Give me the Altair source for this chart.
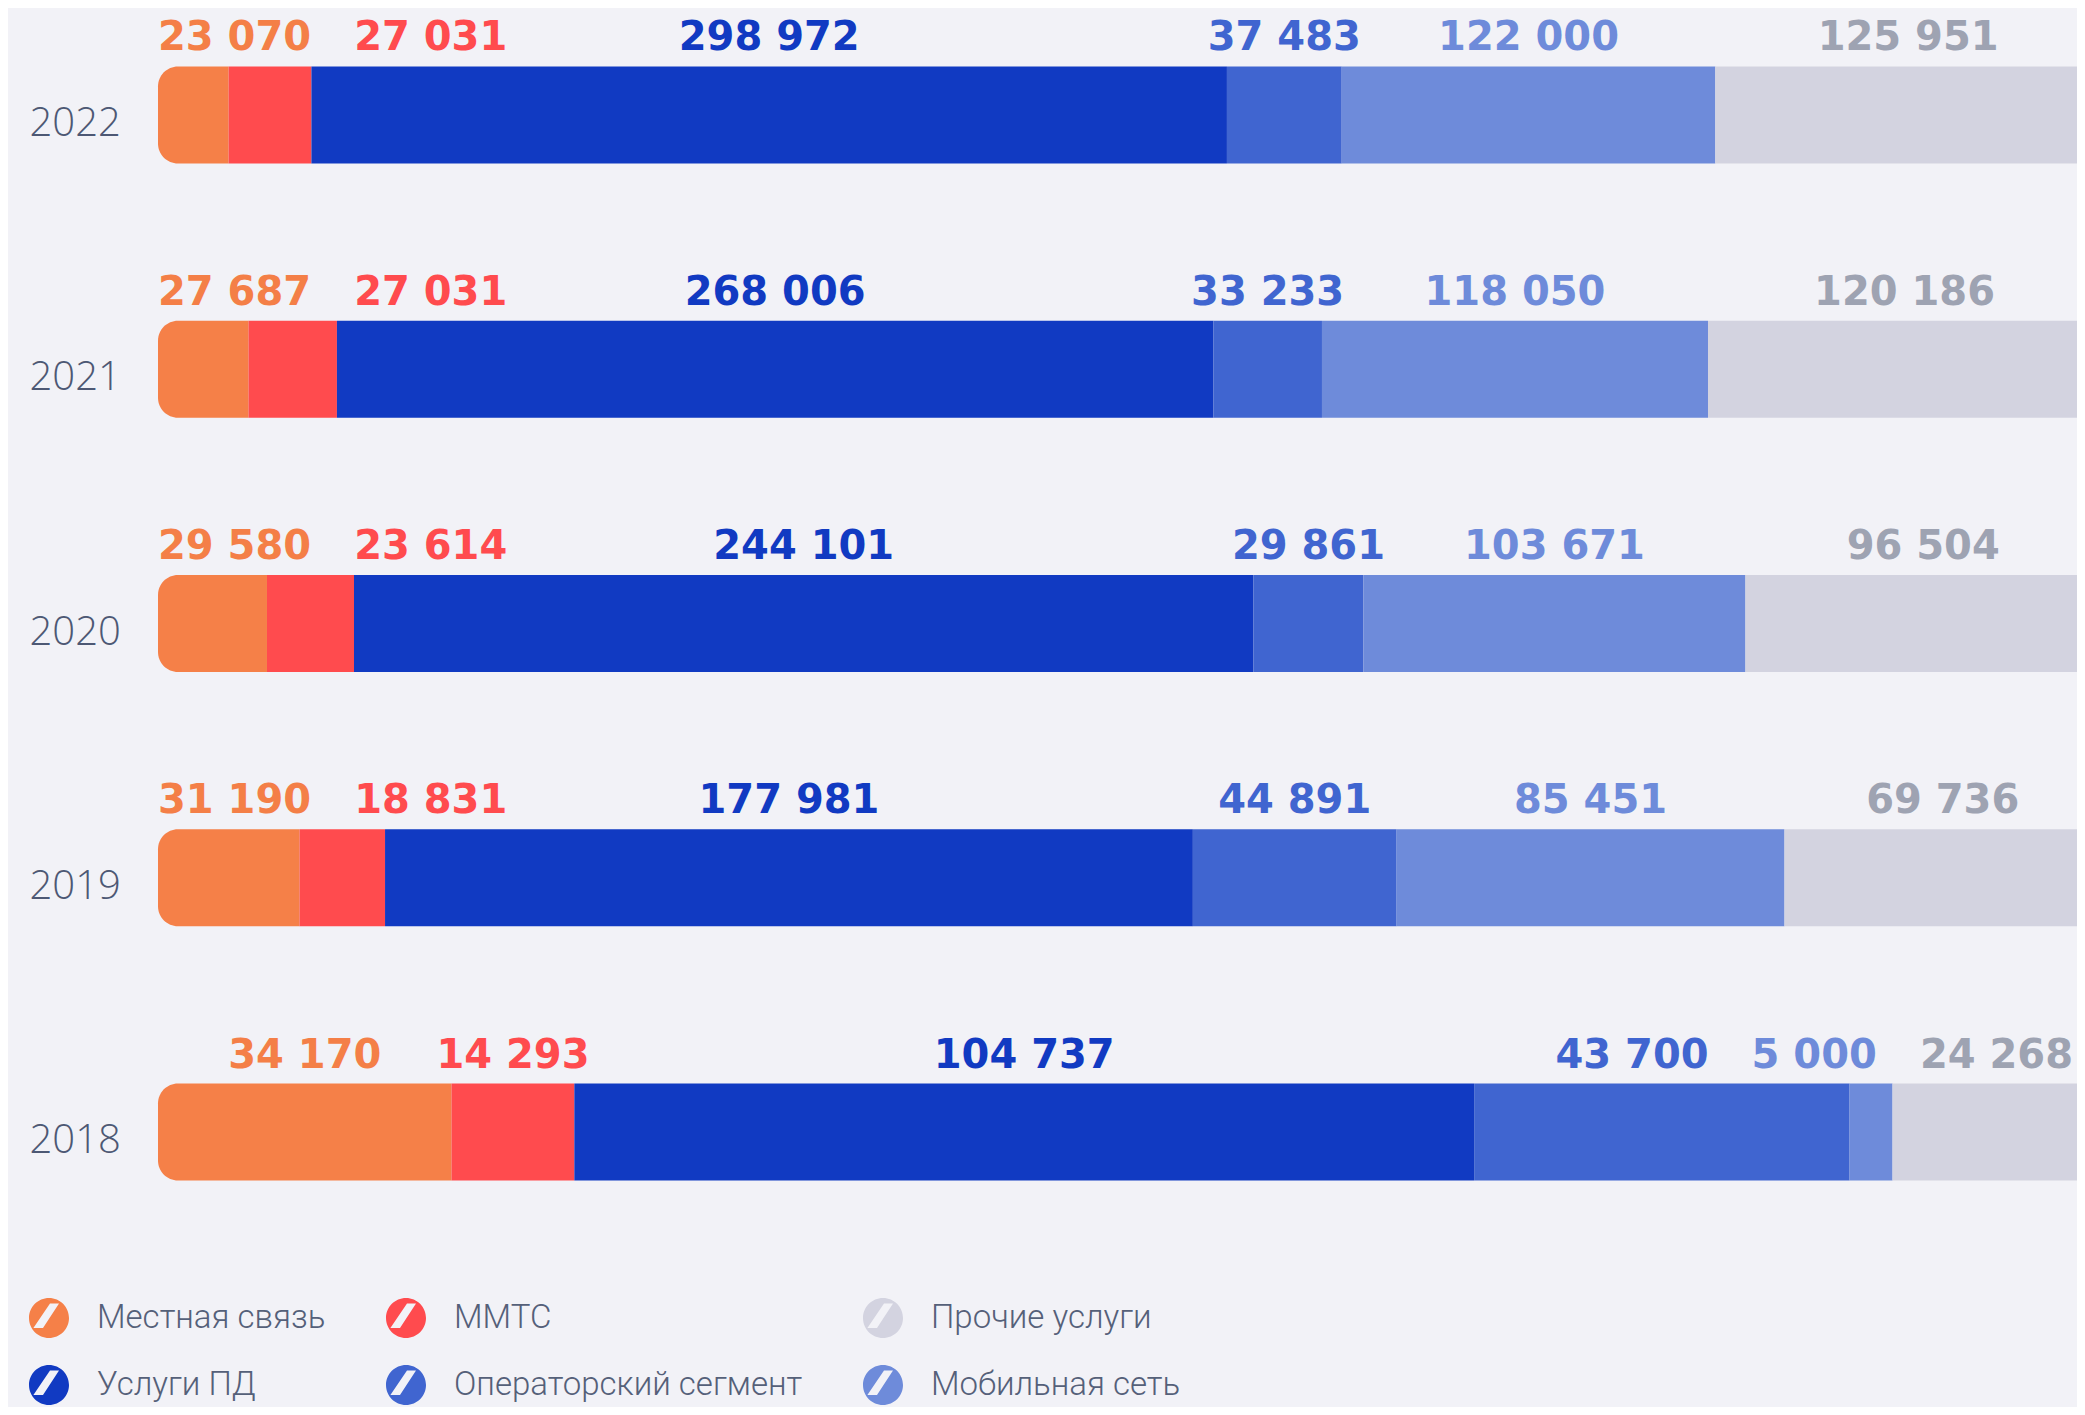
import altair as alt
import pandas as pd

years = ["2022", "2021", "2020", "2019", "2018"]
categories = ["Местная связь", "ММТС", "Услуги ПД", "Операторский сегмент", "Мобильная сеть", "Прочие услуги"]
legend_order = ["Местная связь", "ММТС", "Прочие услуги", "Услуги ПД", "Операторский сегмент", "Мобильная сеть"]

local_vals = [23070, 27687, 29580, 31190, 34170]
mmts_vals = [27031, 27031, 23614, 18831, 14293]
pd_vals = [298972, 268006, 244101, 177981, 104737]
oper_vals = [37483, 33233, 29861, 44891, 43700]
mobile_vals = [122000, 118050, 103671, 85451, 5000]
other_vals = [125951, 120186, 96504, 69736, 24268]

bar_colors = ["#F58048", "#FF4B4E", "#113AC2", "#4065D0", "#6E8BDA", "#D3D3E0"]
label_colors = ["#F47F47", "#FF4B4E", "#113AC2", "#4065D0", "#6E8BDA", "#9EA3B2"]

series = [local_vals, mmts_vals, pd_vals, oper_vals, mobile_vals, other_vals]

# layout constants
W = 1943          # plot width (bar runs slightly past the visible edge)
VISIBLE = 1915    # visible width for label clamping
H = 1231
FS = 40
GAP = 43


def fmt(v):
    return f"{v:,}".replace(",", " ")


def est_width(s):
    return sum(0.696 if ch.isdigit() else 0.348 for ch in s) * FS


rows = []
for yi, yr in enumerate(years):
    vals = [s[yi] for s in series]
    tot = sum(vals)
    cum = 0
    segs = []
    for ci, cat in enumerate(categories):
        x0 = cum / tot
        cum += vals[ci]
        x1 = cum / tot
        txt = fmt(vals[ci])
        segs.append(dict(year=yr, cat=cat, x0=x0, x1=x1, txt=txt,
                         color=bar_colors[ci], lcolor=label_colors[ci],
                         w=est_width(txt)))
    # label placement: centered, then pushed apart
    lefts = [((s["x0"] + s["x1"]) / 2) * W - s["w"] / 2 for s in segs]
    lefts[0] = max(lefts[0], 0)
    for i in range(1, len(segs)):
        lefts[i] = max(lefts[i], lefts[i - 1] + segs[i - 1]["w"] + GAP)
    lefts[-1] = min(lefts[-1], VISIBLE - segs[-1]["w"])
    for i in range(len(segs) - 2, -1, -1):
        lefts[i] = min(lefts[i], lefts[i + 1] - GAP - segs[i]["w"])
    for s, l in zip(segs, lefts):
        s["lx"] = (l + s["w"] / 2) / W
        rows.append(s)

df = pd.DataFrame(rows)

xscale = alt.Scale(domain=[0, 1], nice=False, zero=False)
yenc = alt.Y(
    "year:N", sort=years,
    scale=alt.Scale(paddingInner=0.6186, paddingOuter=0.230),
    axis=alt.Axis(title=None, domain=False, ticks=False, tickSize=0, grid=False,
                  labelPadding=129, labelAlign="left", labelFont="Open Sans",
                  labelFontSize=40, labelFontWeight=300, labelColor="#4D5874",
                  labelBaseline="alphabetic", labelOffset=21),
)

symbol_path = ("M1,0C1,0.5523,0.5523,1,0,1C-0.5523,1,-1,0.5523,-1,0"
               "C-1,-0.5523,-0.5523,-1,0,-1C0.5523,-1,1,-0.5523,1,0Z"
               "M-0.78,0.5L-0.3,0.5L0.5,-0.72L0.05,-0.72Z")

color_enc = alt.Color(
    "cat:N",
    scale=alt.Scale(domain=legend_order,
                    range=[bar_colors[categories.index(c)] for c in legend_order]),
    legend=alt.Legend(
        title=None, orient="none", legendX=-129, legendY=1290, columns=3,
        direction="horizontal",
        symbolType=symbol_path, symbolSize=1600, symbolStrokeWidth=0,
        labelFont="Roboto", labelFontSize=33, labelFontWeight=300,
        labelColor="#556079", labelOffset=28, columnPadding=60, rowPadding=27,
        padding=0, labelLimit=1000,
    ),
)

base = alt.Chart(df)

bars_first = base.transform_filter(alt.datum.cat == categories[0]).mark_bar(
    cornerRadiusTopLeft=20, cornerRadiusBottomLeft=20
).encode(x=alt.X("x0:Q", scale=xscale, axis=None), x2="x1:Q", y=yenc, color=color_enc)

bars_mid = base.transform_filter(
    alt.FieldOneOfPredicate(field="cat", oneOf=categories[1:-1])
).mark_bar().encode(x=alt.X("x0:Q", scale=xscale, axis=None), x2="x1:Q", y=yenc, color=color_enc)

bars_last = base.transform_filter(alt.datum.cat == categories[-1]).mark_bar(
    cornerRadiusTopRight=12, cornerRadiusBottomRight=12
).encode(x=alt.X("x0:Q", scale=xscale, axis=None), x2="x1:Q", y=yenc, color=color_enc)

labels = base.mark_text(
    font="DejaVu Sans", fontSize=FS, fontWeight="bold", align="center",
    baseline="alphabetic", dy=-64.5
).encode(
    x=alt.X("lx:Q", scale=xscale, axis=None), y=yenc, text="txt:N",
    color=alt.Color("lcolor:N", scale=None, legend=None),
)

chart = alt.layer(bars_first, bars_mid, bars_last, labels).properties(
    width=W, height=H,
    padding={"left": 150, "top": 0, "right": -24, "bottom": 168},
    autosize=alt.AutoSizeParams(type="none"),
).configure(background="#F2F2F7").configure_view(stroke=None)

chart.save("out.html", embed_options={"renderer": "svg", "actions": False})
